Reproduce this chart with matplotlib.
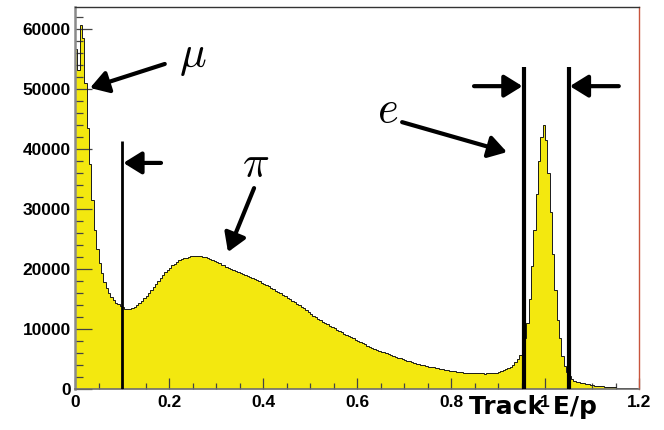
import matplotlib
matplotlib.use('Agg')
import matplotlib.pyplot as plt
import numpy as np
from matplotlib.ticker import FixedLocator, MultipleLocator

# ---------------- data ----------------
x_min, x_max = 0.0, 1.2
counts = [
    56700, 53200, 60700, 58500, 51000, 43500, 37500, 31500, 26500, 23300,
    21000, 19300, 17900, 16900, 16000, 15300, 14800, 14400, 14100, 13800,
    13600, 13400, 13300, 13350, 13500, 13700, 14000, 14300, 14700, 15100,
    15500, 16000, 16500, 17000, 17500, 18000, 18500, 19000, 19500, 19900,
    20200, 20600, 20900, 21200, 21450, 21650, 21800, 21900, 22000, 22100,
    22150, 22250, 22200, 22150, 22050, 21950, 21800, 21650, 21450, 21300,
    21150, 20950, 20750, 20600, 20400, 20250, 20050, 19900, 19700, 19500,
    19350, 19150, 18950, 18800, 18600, 18450, 18300, 18150, 17950, 17750,
    17550, 17350, 17150, 16900, 16650, 16400, 16200, 15950, 15700, 15500,
    15250, 15000, 14750, 14500, 14250, 14000, 13700, 13450, 13200, 12900,
    12550, 12250, 12000, 11750, 11500, 11250, 11000, 10800, 10550, 10350,
    10100, 9900, 9650, 9450, 9250, 9050, 8800, 8650, 8450, 8250,
    8050, 7850, 7650, 7450, 7250, 7050, 6850, 6700, 6550, 6400,
    6250, 6100, 5950, 5800, 5650, 5500, 5350, 5200, 5100, 4950,
    4850, 4700, 4600, 4450, 4350, 4250, 4150, 4050, 3950, 3850,
    3750, 3650, 3600, 3500, 3450, 3350, 3300, 3200, 3150, 3050,
    3000, 2950, 2900, 2850, 2800, 2750, 2700, 2700, 2650, 2650,
    2600, 2600, 2600, 2600, 2550, 2600, 2600, 2650, 2700, 2750,
    2850, 2950, 3100, 3300, 3500, 3750, 4050, 4450, 5000, 5700,
    6700, 8500, 11000, 15000, 20500, 26500, 32500, 38000, 42000, 44000,
    41500, 36000, 29500, 22500, 16500, 11500, 8500, 5500, 3800, 2800,
    2200, 1700, 1400, 1250, 1150, 1050, 950, 850, 780, 700,
    630, 570, 520, 470, 430, 390, 350, 320, 290, 260,
    240, 210, 190, 170, 150, 130, 120, 100, 90, 80,
]
edges = np.linspace(x_min, x_max, len(counts) + 1)

pion_cut = 0.1
electron_window = [0.955, 1.05]

x_ticks = [0, 0.2, 0.4, 0.6, 0.8, 1.0, 1.2]
x_tick_labels = ['0', '0.2', '0.4', '0.6', '0.8', '1', '1.2']
y_ticks = [0, 10000, 20000, 30000, 40000, 50000, 60000]
y_tick_labels = ['0', '10000', '20000', '30000', '40000', '50000', '60000']
x_label = 'Track E/p'

# ---------------- style ----------------
plt.rcParams['font.family'] = ['Liberation Sans', 'DejaVu Sans']
plt.rcParams['mathtext.fontset'] = 'cm'

fig = plt.figure(figsize=(6.64, 4.30), dpi=100)
ax = fig.add_axes([75 / 664, 41 / 430, 564 / 664, 382 / 430])

ax.stairs(counts, edges, fill=True, color='#f3e80f', zorder=1)
ax.stairs(counts, edges, color='#1a1a1a', lw=0.7, zorder=2)

ax.set_xlim(x_min, x_max)
ax.set_ylim(0, 63700)

ax.xaxis.set_major_locator(FixedLocator(x_ticks))
ax.set_xticklabels(x_tick_labels)
ax.xaxis.set_minor_locator(MultipleLocator(0.05))
ax.yaxis.set_major_locator(FixedLocator(y_ticks))
ax.set_yticklabels(y_tick_labels)
ax.yaxis.set_minor_locator(MultipleLocator(2000))

ax.tick_params(axis='y', which='major', direction='in', length=12, width=0.9,
               color='#444444', pad=3, labelsize=12.5)
ax.tick_params(axis='y', which='minor', direction='in', length=6, width=0.9,
               color='#444444')
ax.tick_params(axis='x', which='major', direction='in', length=7.7, width=0.9,
               color='#444444', pad=4.5, labelsize=12.5)
ax.tick_params(axis='x', which='minor', direction='in', length=4.1, width=0.9,
               color='#444444')
for lab in ax.get_xticklabels() + ax.get_yticklabels():
    lab.set_fontweight('bold')

ax.spines['left'].set_color('#8a8a8a')
ax.spines['left'].set_linewidth(1.8)
ax.spines['bottom'].set_color('#6e6e6e')
ax.spines['bottom'].set_linewidth(1.2)
ax.spines['top'].set_color('#333333')
ax.spines['top'].set_linewidth(1.0)
ax.spines['right'].set_color('#c8553d')
ax.spines['right'].set_linewidth(1.0)

ax.set_xlabel(x_label, fontsize=18, fontweight='bold', family='DejaVu Sans',
              ha='right', va='baseline')
ax.xaxis.set_label_coords(0.926, -0.0654)

# ---------------- cut lines ----------------
ax.vlines(pion_cut, 0, 41300, color='k', lw=2.0, zorder=3)
ax.vlines(electron_window, 0, 53700, color='k', lw=3.0, zorder=3)

arrow_kw = dict(arrowstyle='-|>,head_length=0.42,head_width=0.26', lw=3.0,
                color='k', shrinkA=0, shrinkB=0, mutation_scale=26)

# muon
ax.annotate('', xy=(0.032, 50200), xytext=(0.191, 54200), arrowprops=arrow_kw, zorder=4)
ax.text(0.251, 55200, r'$\mu$', fontsize=32, ha='center', va='center')
# pion cut arrow
ax.annotate('', xy=(pion_cut + 0.003, 37700), xytext=(0.183, 37700), arrowprops=arrow_kw, zorder=4)
# pion
ax.annotate('', xy=(0.3255, 22830), xytext=(0.381, 33500), arrowprops=arrow_kw, zorder=4)
ax.text(0.385, 37200, r'$\pi$', fontsize=32, ha='center', va='center')
# electron
ax.annotate('', xy=(0.919, 39500), xytext=(0.696, 44500), arrowprops=arrow_kw, zorder=4)
ax.text(0.666, 46400, r'$e$', fontsize=32, ha='center', va='center')
# electron window arrows
ax.annotate('', xy=(electron_window[0] - 0.003, 50500), xytext=(0.849, 50500),
            arrowprops=arrow_kw, zorder=4)
ax.annotate('', xy=(electron_window[1] + 0.003, 50500), xytext=(1.157, 50500),
            arrowprops=arrow_kw, zorder=4)

fig.savefig('out.png', dpi=100)
